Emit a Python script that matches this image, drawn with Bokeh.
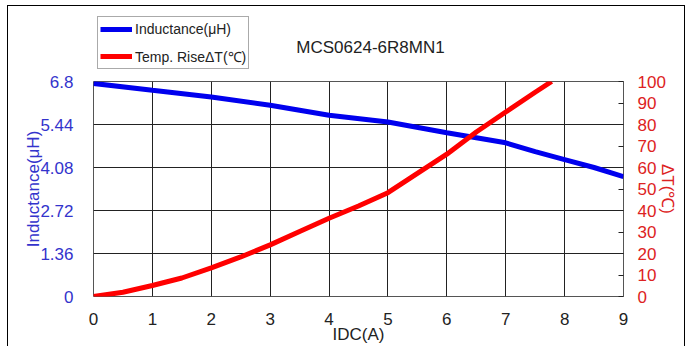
from bokeh.plotting import figure
from bokeh.layouts import column
from bokeh.models import (Range1d, LinearAxis, FixedTicker, Legend, LegendItem,
                          Label)
from bokeh.embed import file_html
from bokeh.resources import INLINE

# ---- data ----
title_text = "MCS0624-6R8MN1"
ind_idc = [0, 1, 2, 3, 4, 5, 6, 6.5, 7, 7.5, 8, 8.5, 9]
ind_val = [6.74, 6.52, 6.31, 6.05, 5.73, 5.52, 5.18, 5.02, 4.86, 4.58, 4.33, 4.08, 3.79]
temp_idc = [0, 0.5, 1, 1.5, 2, 2.5, 3, 3.5, 4, 4.5, 5, 5.5, 6, 6.5, 7, 7.5, 7.78]
temp_val = [0, 2, 5.1, 8.6, 13.3, 18.4, 24, 30.2, 36.4, 42.1, 48.3, 57.3, 66.2, 76.5, 85.8, 95, 100]
x_ticks = [0, 1, 2, 3, 4, 5, 6, 7, 8, 9]
left_ticks = [0, 1.36, 2.72, 4.08, 5.44, 6.8]
left_tick_labels = ["0", "1.36", "2.72", "4.08", "5.44", "6.8"]
right_ticks = [0, 10, 20, 30, 40, 50, 60, 70, 80, 90, 100]
series_names = ["Inductance(μH)", "Temp. RiseΔT(℃)"]

FONT = "Liberation Sans"
BLUE = "#0000ee"
RED = "#ff0000"
TICK_BLUE = "#3333cc"
TICK_RED = "#dd2222"
FRAME_W = 530
BORDER_L = 85
BORDER_R = 61
FIG_W = BORDER_L + FRAME_W + BORDER_R
TOP_H = 63
MAIN_H = 12 + 216 + 49

# ---- top strip: title + legend ----
top = figure(width=FIG_W, height=TOP_H,
             min_border_left=BORDER_L, min_border_right=BORDER_R,
             min_border_top=0, min_border_bottom=0,
             x_range=Range1d(0, FRAME_W), y_range=Range1d(0, TOP_H),
             x_axis_type=None, y_axis_type=None,
             output_backend="svg", toolbar_location=None)
top.outline_line_color = None
top.background_fill_color = "white"
top.border_fill_color = "white"
# series drawn on an off-screen range, only to feed the legend glyphs
top.extra_x_ranges = {"off": Range1d(100, 200)}
lg1 = top.line(ind_idc, ind_val, line_color=BLUE, line_width=5, x_range_name="off")
lg2 = top.line(temp_idc, temp_val, line_color=RED, line_width=5, x_range_name="off")

top.add_layout(Label(x=277, y=22, text=title_text, text_font=FONT,
                     text_font_size="17px", text_color="#222222",
                     text_align="center", text_baseline="middle"))

legend = Legend(items=[LegendItem(label=series_names[0], renderers=[lg1]),
                       LegendItem(label=series_names[1], renderers=[lg2])],
                location=(4, 0), orientation="vertical")
legend.label_text_font = FONT
legend.label_text_font_size = "14px"
legend.label_text_color = "#222222"
legend.glyph_width = 32
legend.glyph_height = 20
legend.label_height = 20
legend.label_standoff = 3
legend.padding = 2
legend.spacing = 7
legend.margin = 0
legend.border_line_color = "#555555"
legend.border_line_width = 1
legend.background_fill_color = "white"
legend.background_fill_alpha = 1
top.add_layout(legend, "center")

# ---- main chart ----
p = figure(width=FIG_W, height=MAIN_H,
           min_border_left=BORDER_L, min_border_right=BORDER_R,
           min_border_top=12, min_border_bottom=49,
           x_range=Range1d(0, 9), y_range=Range1d(0, 6.8),
           output_backend="svg", toolbar_location=None)
p.background_fill_color = "white"
p.border_fill_color = "white"
p.outline_line_color = "#555555"
p.outline_line_width = 1

p.extra_y_ranges = {"temp": Range1d(0, 100)}

p.xgrid.ticker = FixedTicker(ticks=x_ticks)
p.ygrid.ticker = FixedTicker(ticks=left_ticks)
for g in (p.xgrid[0], p.ygrid[0]):
    g.grid_line_color = "#222222"
    g.grid_line_width = 1

xa = p.xaxis[0]
xa.ticker = FixedTicker(ticks=x_ticks)
xa.axis_line_color = None
xa.major_tick_line_color = None
xa.minor_tick_line_color = None
xa.major_label_standoff = 10
xa.major_label_text_font = FONT
xa.major_label_text_font_size = "17px"
xa.major_label_text_color = "#222222"
xa.axis_label = "IDC(A)"
xa.axis_label_text_font = FONT
xa.axis_label_text_font_size = "17px"
xa.axis_label_text_font_style = "normal"
xa.axis_label_text_color = "#222222"
xa.axis_label_standoff = -3

ya = p.yaxis[0]
ya.ticker = FixedTicker(ticks=left_ticks)
ya.major_label_overrides = {t: s for t, s in zip(left_ticks, left_tick_labels)}
ya.axis_line_color = None
ya.major_tick_line_color = None
ya.minor_tick_line_color = None
ya.major_label_standoff = 14
ya.major_label_text_font = FONT
ya.major_label_text_font_size = "17px"
ya.major_label_text_color = TICK_BLUE
ya.axis_label = series_names[0]
ya.axis_label_text_font = FONT
ya.axis_label_text_font_size = "17px"
ya.axis_label_text_font_style = "normal"
ya.axis_label_text_color = TICK_BLUE
ya.axis_label_standoff = -6

ra = LinearAxis(y_range_name="temp", ticker=FixedTicker(ticks=right_ticks))
ra.axis_line_color = None
ra.major_tick_in = 5
ra.major_tick_out = 0
ra.major_tick_line_color = "#222222"
ra.minor_tick_line_color = None
ra.major_label_standoff = 14
ra.major_label_text_font = FONT
ra.major_label_text_font_size = "17px"
ra.major_label_text_color = TICK_RED
ra.axis_label = "ΔT(℃)"
ra.axis_label_text_font = FONT
ra.axis_label_text_font_size = "17px"
ra.axis_label_text_font_style = "normal"
ra.axis_label_text_color = TICK_RED
ra.axis_label_standoff = -11
p.add_layout(ra, "right")

p.line(ind_idc, ind_val, line_color=BLUE, line_width=5)
p.line(temp_idc, temp_val, line_color=RED, line_width=5, y_range_name="temp")

layout = column(top, p, spacing=0,
                styles={"margin-left": "7px", "margin-top": "5px",
                        "margin-right": "9px",
                        "border-left": "1px solid black",
                        "border-top": "1px solid black",
                        "border-right": "1px solid black"})

open("out.html", "w").write(file_html(layout, INLINE))
